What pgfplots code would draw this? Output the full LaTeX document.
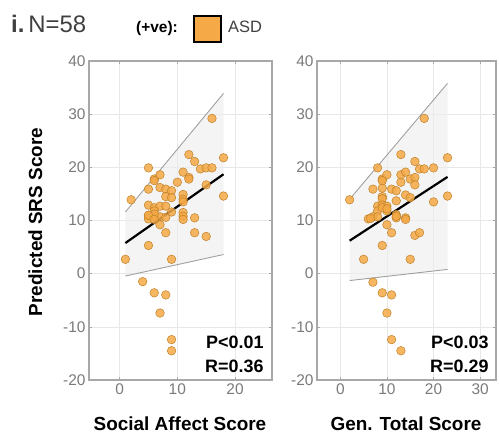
\documentclass[border=0pt]{standalone}
\usepackage{pgfplots}
\pgfplotsset{compat=1.18}
\usepackage{fontspec}
\setmainfont{Liberation Sans}

\definecolor{asd}{HTML}{F5A947}
\definecolor{asdedge}{HTML}{C08228}
\definecolor{boxgrey}{HTML}{A8A8A8}
\definecolor{tickgrey}{HTML}{7A7A7A}
\definecolor{gridgrey}{HTML}{E8E8E8}
\definecolor{shade}{HTML}{EDEDED}
\definecolor{cigrey}{HTML}{A0A0A0}

\tikzset{stat/.style={font=\fontsize{18}{21}\selectfont\bfseries, align=right}}

\pgfplotsset{
  panel/.style={
    scale only axis, anchor=south west, height=319bp,
    ymin=-20, ymax=40, ytick={-20,-10,...,40},
    axis line style={boxgrey, line width=1.6bp},
    grid=major, major grid style={gridgrey, line width=0.6bp},
    tick style={boxgrey, line width=0.6bp}, tick align=inside,
    major tick length=3bp,
    tick label style={font=\fontsize{15.5}{16}\selectfont, text=tickgrey},
    /pgf/number format/assume math mode=true,
  },
  pts/.style={only marks, mark=*, mark size=4.3bp,
    mark options={fill=asd, draw=asdedge, line width=0.5bp, fill opacity=0.85}},
  band/.style={draw=none, fill=shade, fill opacity=0.6},
  ci/.style={cigrey, line width=0.9bp},
  regline/.style={black, line width=2.2bp},
}

\begin{document}
\begin{tikzpicture}
\path[use as bounding box] (0,0) rectangle (499bp,434bp);

% ---- Social Affect Score ----
\begin{axis}[panel, at={(89bp,54bp)}, width=183bp,
  xmin=-5.3, xmax=26.4, xtick={0,10,20}]
  \addplot[band] coordinates {(1,11.6) (18,33.9) (18,3.6) (1,-0.44)} -- cycle;
  \addplot[ci] coordinates {(1,11.6) (18,33.9)};
  \addplot[ci] coordinates {(1,-0.44) (18,3.6)};
  \addplot[pts] coordinates {
    (2,13.9) (5,19.9) (6,17.8) (6,17.5) (7,18.6) (5,15.9) (7,16.2) (8,15.9)
    (9,15.6) (8,14.5) (9,14.3) (10,17.2) (11,19.1) (12,18.1) (12,17.8) (12,22.4)
    (13,21.1) (14,19.7) (15,19.9) (16,19.9) (16,29.2) (18,21.8) (18,14.6) (15,16.7)
    (5,12.9) (6,12.4) (7,12.7) (8,12.7) (6,11.8) (5,10.9) (5,10.3) (6,10.7)
    (7,10.7) (8,10.6) (7,9.2) (9,11.6) (11,14.9) (11,14.0) (11,11.5) (11,10.8)
    (11,10.2) (13,10.5) (8,7.7) (13,7.7) (15,7.0) (5,5.3) (1,2.7) (9,2.7)
    (4,-1.5) (6,-3.6) (8,-4.0) (7,-7.4) (9,-12.4) (9,-14.5)
    (6,11.2) (5,11.0) (11,13.5) (6,10.2)};
  \addplot[regline] coordinates {(1,5.76) (18,18.7)};
  \node[stat, anchor=base east] at (rel axis cs:0.973,0.100) {P<0.01};
  \node[stat, anchor=base east] at (rel axis cs:0.973,0.025) {R=0.36};
\end{axis}

% ---- Gen. Total Score ----
\begin{axis}[panel, at={(317bp,54bp)}, width=179bp,
  xmin=-5, xmax=33.4, xtick={0,10,20,30}]
  \addplot[band] coordinates {(2,14.0) (23,35.8) (23,0.8) (2,-1.3)} -- cycle;
  \addplot[ci] coordinates {(2,14.0) (23,35.8)};
  \addplot[ci] coordinates {(2,-1.3) (23,0.8)};
  \addplot[pts] coordinates {
    (2,13.9) (8,19.9) (9,17.8) (10,18.6) (7,15.9) (9,16.1) (11,15.9) (12,15.6)
    (9,14.5) (9,14.1) (12,13.7) (13,17.2) (13,18.6) (14,19.1) (15,17.8) (16,18.1)
    (16,16.7) (13,22.4) (16,21.1) (17,19.7) (18,19.7) (20,19.9) (18,29.2) (23,21.8)
    (23,14.6) (20,13.5) (14,14.8) (15,14.3) (8,12.7) (9,12.9) (10,12.7) (10,11.8)
    (8,11.8) (7,10.7) (6,10.3) (8,10.7) (12,11.1) (12,10.5) (14,10.5) (14,10.2)
    (10,9.2) (11,7.7) (16,7.2) (17,7.7) (9,5.3) (5,2.7) (15,2.7) (7,-1.6)
    (9,-3.6) (11,-4.0) (10,-7.4) (11,-12.4) (13,-14.5)
    (9,12.4) (12,10.8) (6.5,10.4) (10,12.2) (9,17.5)};
  \addplot[regline] coordinates {(2,6.2) (23,18.2)};
  \node[stat, anchor=base east] at (rel axis cs:0.978,0.100) {P<0.03};
  \node[stat, anchor=base east] at (rel axis cs:0.978,0.025) {R=0.29};
\end{axis}

% axis titles
\node[anchor=base, font=\fontsize{19}{20}\selectfont\bfseries] at (180bp,4bp) {Social Affect Score};
\node[anchor=base, font=\fontsize{19}{20}\selectfont\bfseries] at (406bp,4bp) {Gen. Total Score};
\node[anchor=base, rotate=90, font=\fontsize{19}{20}\selectfont\bfseries] at (42bp,212bp) {Predicted SRS Score};

% header and legend
\node[anchor=base west, inner sep=0pt, text=black!75] at (11bp,401bp)
  {\fontsize{24}{26}\selectfont\textbf{i.}\,N=58};
\node[anchor=base west, inner sep=0pt, font=\fontsize{15.5}{17}\selectfont\bfseries] at (136bp,401bp) {(+ve):};
\draw[black, line width=1.8bp, fill=asd] (194bp,392bp) rectangle (221bp,418bp);
\node[anchor=base west, inner sep=0pt, text=black!75, font=\fontsize{16.5}{18}\selectfont] at (228bp,401bp) {ASD};
\end{tikzpicture}
\end{document}
